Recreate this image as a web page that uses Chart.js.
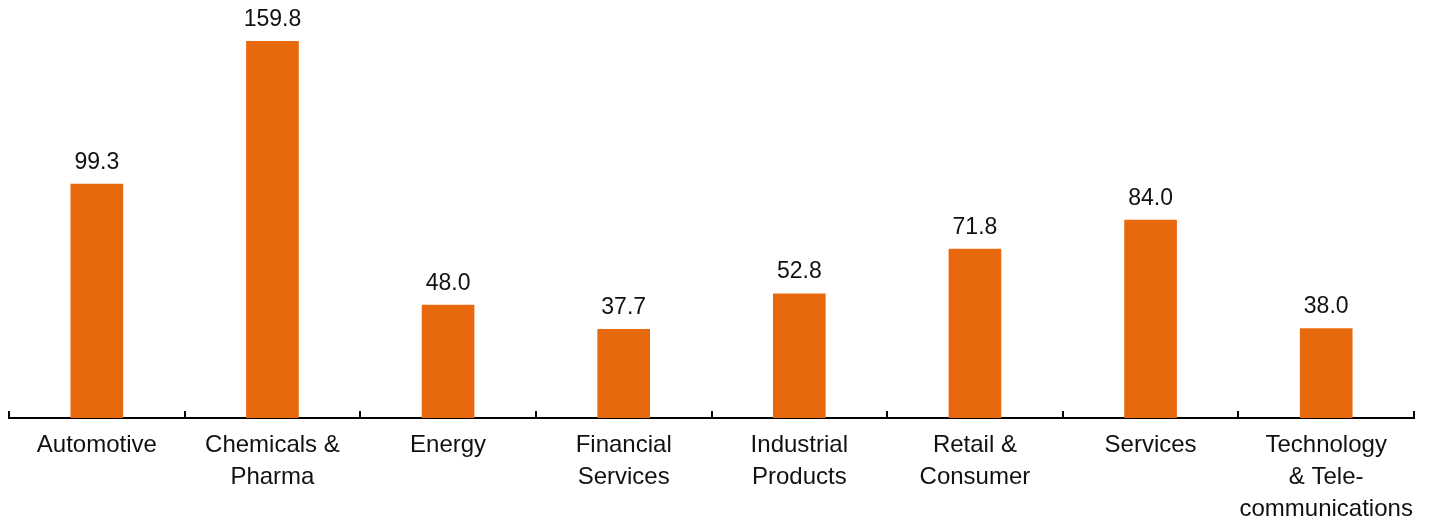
<!DOCTYPE html>
<html>
<head>
<meta charset="utf-8">
<script src="https://cdn.jsdelivr.net/npm/chart.js@4"></script>
<style>
  html, body { margin: 0; padding: 0; background: #fff; }
  #wrap { width: 1432px; height: 522px; position: relative; }
</style>
</head>
<body>
<div id="wrap"><canvas id="sectorChart"></canvas></div>
<script>
const sectors = [
  ['Automotive'],
  ['Chemicals &', 'Pharma'],
  ['Energy'],
  ['Financial', 'Services'],
  ['Industrial', 'Products'],
  ['Retail &', 'Consumer'],
  ['Services'],
  ['Technology', '& Tele-', 'communications'],
];
const dealValues = [99.3, 159.8, 48.0, 37.7, 52.8, 71.8, 84.0, 38.0];

const barColor = '#e8680e';
const textColor = '#111';
const fontFamily = "'Helvetica Neue', Helvetica, 'Liberation Sans', Arial, sans-serif";

// value above each bar
const valueLabels = {
  id: 'valueLabels',
  afterDatasetsDraw(chart) {
    const ctx = chart.ctx;
    const meta = chart.getDatasetMeta(0);
    ctx.save();
    ctx.font = '23px ' + fontFamily;
    ctx.fillStyle = textColor;
    ctx.textAlign = 'center';
    ctx.textBaseline = 'alphabetic';
    meta.data.forEach((bar, i) => {
      ctx.fillText(dealValues[i].toFixed(1), bar.x, bar.y - 15);
    });
    ctx.restore();
  },
};

// small upward ticks between categories
const separatorTicks = {
  id: 'separatorTicks',
  afterDraw(chart) {
    const ctx = chart.ctx;
    const x = chart.scales.x;
    const bottom = chart.chartArea.bottom;
    ctx.save();
    ctx.strokeStyle = '#000';
    ctx.lineWidth = 2;
    for (let i = 0; i <= sectors.length; i++) {
      const px = Math.round(x.getPixelForValue(i - 0.5));
      ctx.beginPath();
      ctx.moveTo(px, bottom);
      ctx.lineTo(px, bottom - 7);
      ctx.stroke();
    }
    ctx.restore();
  },
};

new Chart(document.getElementById('sectorChart').getContext('2d'), {
  type: 'bar',
  data: {
    labels: sectors,
    datasets: [{
      data: dealValues,
      backgroundColor: barColor,
      barPercentage: 0.3,
      categoryPercentage: 1,
    }],
  },
  options: {
    responsive: true,
    maintainAspectRatio: false,
    animation: false,
    layout: { padding: { top: 17, left: 9, right: 18, bottom: 0 } },
    plugins: { legend: { display: false }, tooltip: { enabled: false } },
    scales: {
      x: {
        offset: true,
        grid: { display: false },
        border: { display: true, color: '#000', width: 2 },
        ticks: {
          color: textColor,
          padding: 3,
          maxRotation: 0,
          autoSkip: false,
          font: { family: fontFamily, size: 24, lineHeight: 1.333 },
        },
        afterFit(scale) { scale.height = 104; },
      },
      y: {
        display: false,
        min: 0,
        max: 170,
      },
    },
  },
  plugins: [valueLabels, separatorTicks],
});
</script>
</body>
</html>
